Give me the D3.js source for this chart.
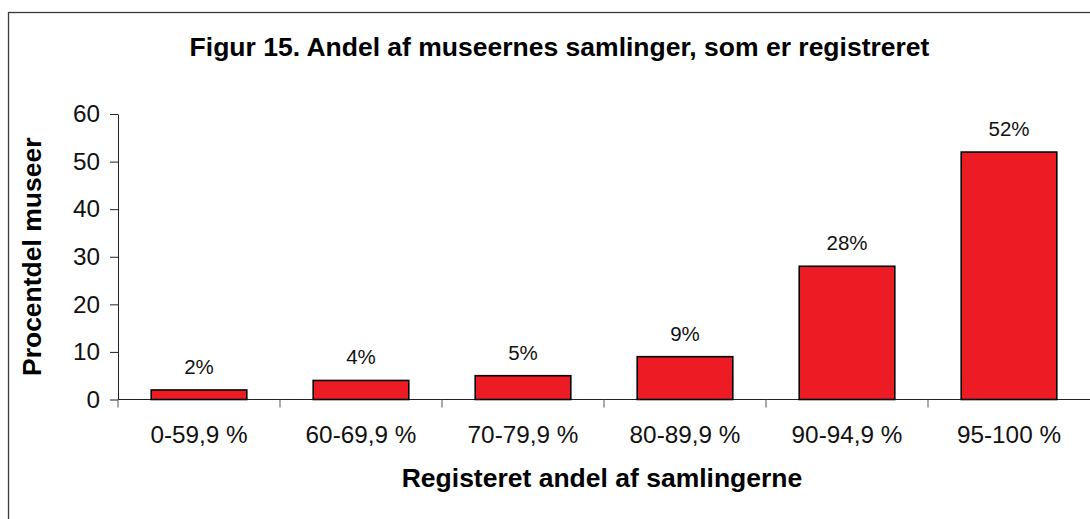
<!DOCTYPE html>
<html>
<head>
<meta charset="utf-8">
<script src="https://cdn.jsdelivr.net/npm/d3@7"></script>
<style>
  html, body { margin: 0; padding: 0; background: #fff; }
  svg { display: block; font-family: "Liberation Sans", Arial, sans-serif; }
</style>
</head>
<body>
<svg id="chart" width="1090" height="519"></svg>
<script>
// data
const categories = ['0-59,9 %', '60-69,9 %', '70-79,9 %', '80-89,9 %', '90-94,9 %', '95-100 %'];
const values = [2, 4, 5, 9, 28, 52];
const valueLabels = ['2%', '4%', '5%', '9%', '28%', '52%'];
const yTicks = [0, 10, 20, 30, 40, 50, 60];

const svg = d3.select('#chart');
const plot = { left: 118, right: 1090, top: 114, bottom: 399.5 };

// outer frame (runs off the right and bottom edge)
svg.append('rect')
    .attr('x', 8.5).attr('y', 12.5)
    .attr('width', 1100).attr('height', 530)
    .attr('fill', 'none')
    .attr('stroke', '#3a3a3a')
    .attr('stroke-width', 1.3);

const x = d3.scaleBand()
    .domain(categories)
    .range([plot.left, plot.right])
    .paddingInner(0.41)
    .paddingOuter(0.205);

const y = d3.scaleLinear()
    .domain([0, 60])
    .range([plot.bottom, plot.top]);

// title
svg.append('text')
    .attr('x', 559.5).attr('y', 55.5)
    .attr('text-anchor', 'middle')
    .attr('font-size', 26.5)
    .attr('font-weight', 'bold')
    .attr('fill', '#000')
    .text('Figur 15. Andel af museernes samlinger, som er registreret');

// y axis
const yAxis = svg.append('g')
    .attr('transform', `translate(${plot.left},0)`)
    .call(d3.axisLeft(y).tickValues(yTicks).tickSize(8).tickSizeOuter(0).tickPadding(10));
yAxis.select('.domain').attr('stroke', '#222');
yAxis.selectAll('.tick line').attr('stroke', '#222');
yAxis.selectAll('.tick text')
    .attr('font-size', 24.3)
    .attr('font-family', '"Liberation Sans", Arial, sans-serif')
    .attr('fill', '#111');

// x axis: ticks sit between categories
const bounds = d3.range(categories.length).map(i => plot.left + i * (plot.right - plot.left) / categories.length);
const xAxisG = svg.append('g');
xAxisG.append('line')
    .attr('x1', plot.left).attr('x2', plot.right)
    .attr('y1', plot.bottom).attr('y2', plot.bottom)
    .attr('stroke', '#222');
xAxisG.selectAll('.xtick')
    .data(bounds)
    .join('line')
    .attr('class', 'xtick')
    .attr('x1', d => d).attr('x2', d => d)
    .attr('y1', plot.bottom).attr('y2', plot.bottom + 8)
    .attr('stroke', '#555');
xAxisG.selectAll('.xlabel')
    .data(categories)
    .join('text')
    .attr('class', 'xlabel')
    .attr('x', d => x(d) + x.bandwidth() / 2)
    .attr('y', 443)
    .attr('text-anchor', 'middle')
    .attr('font-size', 24.3)
    .attr('fill', '#111')
    .text(d => d);

// bars
svg.selectAll('.bar')
    .data(values)
    .join('rect')
    .attr('class', 'bar')
    .attr('x', (d, i) => x(categories[i]))
    .attr('y', d => y(d))
    .attr('width', x.bandwidth())
    .attr('height', d => y(0) - y(d))
    .attr('fill', '#ED1C24')
    .attr('stroke', '#000')
    .attr('stroke-width', 1.6);

// value labels
svg.selectAll('.vlabel')
    .data(values)
    .join('text')
    .attr('class', 'vlabel')
    .attr('x', (d, i) => x(categories[i]) + x.bandwidth() / 2)
    .attr('y', d => y(d) - 16)
    .attr('text-anchor', 'middle')
    .attr('font-size', 20.5)
    .attr('fill', '#111')
    .text((d, i) => valueLabels[i]);

// axis titles
svg.append('text')
    .attr('transform', `translate(41,${(plot.top + plot.bottom) / 2}) rotate(-90)`)
    .attr('text-anchor', 'middle')
    .attr('font-size', 26.5)
    .attr('font-weight', 'bold')
    .attr('fill', '#000')
    .text('Procentdel museer');

svg.append('text')
    .attr('x', 602).attr('y', 487)
    .attr('text-anchor', 'middle')
    .attr('font-size', 26.5)
    .attr('font-weight', 'bold')
    .attr('fill', '#000')
    .text('Registeret andel af samlingerne');
</script>
</body>
</html>
